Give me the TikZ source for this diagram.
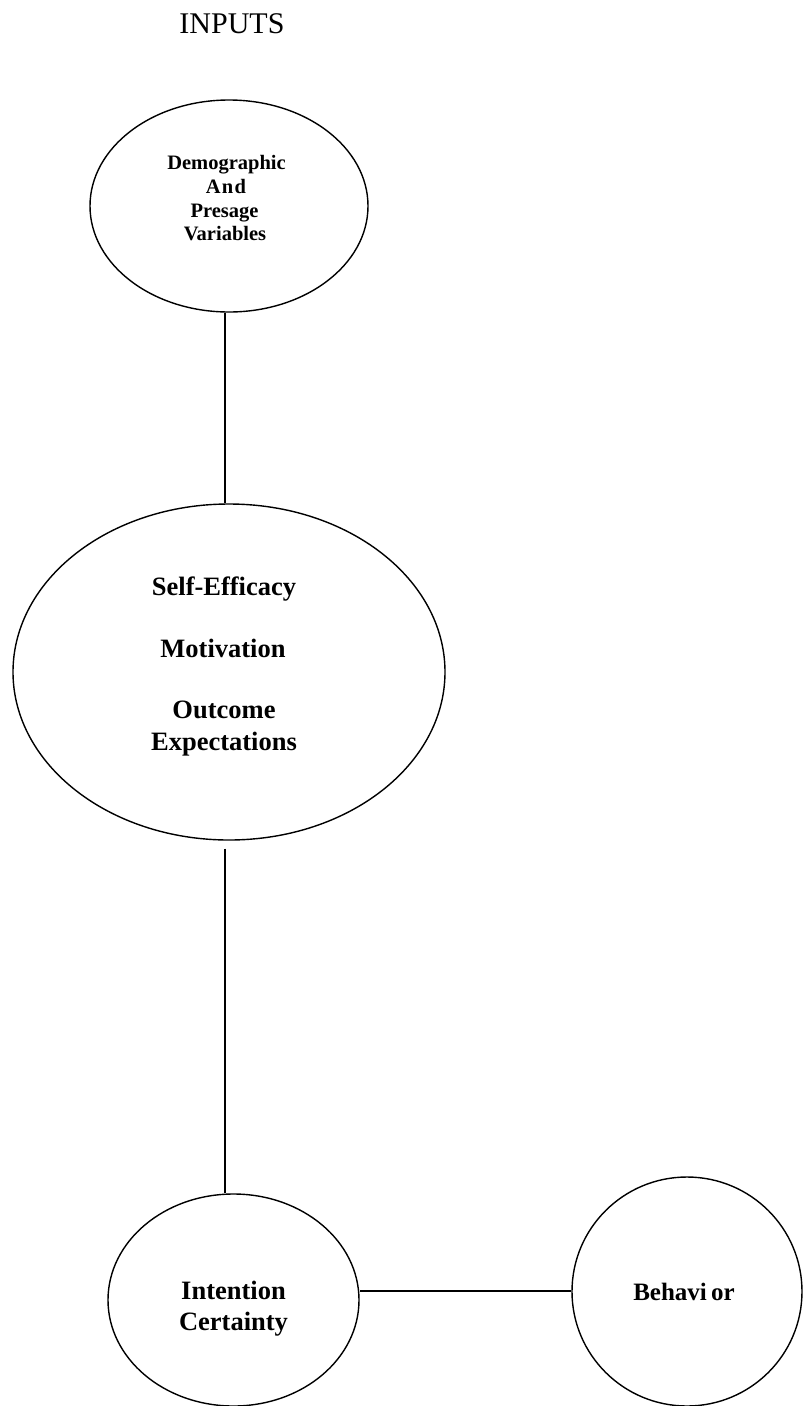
\documentclass[tikz,border=0pt]{standalone}
\usepackage{fontspec}
\setmainfont{Liberation Serif}
\usetikzlibrary{shapes.geometric,calc}
\begin{document}
\begin{tikzpicture}[x=1pt,y=-1pt,
  oval/.style={draw=black,line width=1.4pt,ellipse,inner sep=0pt},
  conn/.style={draw=black,line width=1.6pt},
  lbl/.style={anchor=base,inner sep=0pt,font=\fontsize{26.5}{31}\selectfont\bfseries},
  slbl/.style={anchor=base,inner sep=0pt,font=\fontsize{20.5}{23.7}\selectfont\bfseries}]
\useasboundingbox[fill=white] (0,0) rectangle (804,1406);
% title
\node[anchor=base,inner sep=0pt,font=\fontsize{30}{34}\selectfont] (title) at (232,33) {INPUTS};
% ellipses
\node[oval,minimum width=278pt,minimum height=212pt] (e1) at (229,206) {};
\node[oval,minimum width=432pt,minimum height=336pt] (e2) at (229,672) {};
\node[oval,minimum width=251pt,minimum height=212pt] (e3) at (233.5,1300) {};
\node[oval,minimum width=230pt,minimum height=229pt] (e4) at (687,1291.5) {};
% texts
\node[slbl] (t1a) at (226.5,169) {Demographic};
\node[slbl] (t1b) at (226,193) {A\hspace{0.06em}n\hspace{0.06em}d};
\node[slbl] (t1c) at (224.5,217) {Presage};
\node[slbl] (t1d) at (225,240) {Variables};
\node[lbl] (t2a) at (224,595) {Self-Efficacy};
\node[lbl] (t2b) at (223,657) {Motivation};
\node[lbl] (t2c) at (224,718) {Outcome};
\node[lbl] (t2d) at (224,750) {Expectations};
\node[lbl] (t3a) at (233.5,1299) {Intention};
\node[lbl] (t3b) at (233.5,1330) {Certainty};
\node[lbl,font=\fontsize{25}{30}\selectfont\bfseries] (t4) at (684,1300) {Behavi\hspace{-0.08em} or};
% connectors
\coordinate (lx) at (225,0);
\coordinate (hy) at (0,1291);
\draw[conn] (e1.south -| lx) -- (e2.north -| lx);
\draw[conn] ($(e2.south -| lx)+(0,8)$) -- (e3.north -| lx);
\draw[conn] (e3.east |- hy) -- (e4.west |- hy);
\end{tikzpicture}
\end{document}
